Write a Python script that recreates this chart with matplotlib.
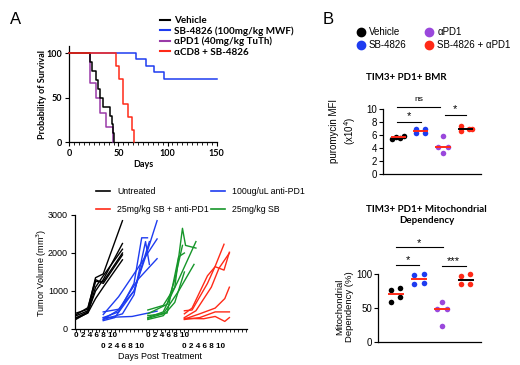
import numpy as np
import matplotlib.pyplot as plt
from matplotlib.lines import Line2D
import matplotlib.transforms as mtransforms

W, H = 520, 365
def fx(px): return px / W
def fy(py): return 1 - py / H

BOLD = 'Lato'
REG = 'Liberation Sans'
plt.rcParams['font.family'] = [REG, 'DejaVu Sans']
plt.rcParams['axes.linewidth'] = 0.9

# ---- survival data ----
surv_labels = ['Vehicle', 'SB-4826 (100mg/kg MWF)', 'αPD1 (40mg/kg TuTh)', 'αCD8 + SB-4826']
veh_t = [0, 21.5, 23.5, 27.5, 29.5, 31, 34.5, 41, 43, 44, 45.5]
veh_s = [100, 90, 80, 70, 60, 50, 40, 30, 20, 10, 0]
sb_t = [0, 68, 78, 86, 96, 150]
sb_s = [100, 92.9, 85.7, 78.6, 71.4, 71.4]
pd1_t = [0, 21, 27, 31, 37, 44.5]
pd1_s = [100, 66.7, 50, 33.3, 16.7, 0]
cd8_t = [0, 48, 50.5, 55, 60, 63.5, 66]
cd8_s = [100, 85.7, 71.4, 42.9, 28.6, 14.3, 0]

# ---- tumor growth data (days post treatment, volume mm3) ----
tumor_labels = ['Untreated', '25mg/kg SB + anti-PD1', '100ug/uL anti-PD1', '25mg/kg SB']
untreated_d = [[0, 3, 5, 7, 12], [0, 3, 5, 7, 12], [0, 3, 5, 7, 12],
               [0, 3, 5, 7, 12], [0, 3, 5, 7, 12], [0, 3, 5, 7, 12]]
untreated_v = [[420, 520, 1350, 1450, 2850], [300, 450, 1000, 1300, 2250],
               [260, 430, 1100, 1400, 2100], [350, 480, 1250, 1250, 2000],
               [280, 420, 800, 1100, 1820], [380, 560, 1300, 1200, 1950]]
apd1_d = [[0, 4, 8, 11, 14], [0, 4, 8, 10, 11.5], [0, 5, 8, 11, 12],
          [0, 4, 9, 14], [0, 4, 9, 14], [0, 7.5, 14], [0, 3, 8, 12]]
apd1_v = [[450, 520, 1000, 1900, 2850], [300, 450, 1200, 2400, 2400],
          [250, 400, 900, 2300, 1700], [380, 850, 1600, 2370],
          [260, 500, 1300, 1850], [300, 330, 470], [220, 300, 1000, 2300]]
sb_d = [[0, 4, 7, 9, 9.8, 12.5], [0, 4, 8, 12.5], [0, 4, 8, 12],
        [0, 5, 8, 9.5], [0, 4, 7, 9.5], [0, 5, 7, 9]]
sb_v = [[500, 620, 1100, 2650, 2200, 2130], [300, 450, 1300, 2300],
        [280, 400, 1000, 1700], [350, 420, 1900, 2000],
        [250, 350, 700, 1500], [400, 650, 1300, 2200]]
combo_d = [[0, 2, 6, 8, 10.3], [0, 2, 6, 8, 10.3, 11.7], [0, 3, 7, 9, 11.7],
           [0, 4, 8, 10.5, 11.7], [0, 4, 8, 11.7], [0, 5, 8, 10.5, 11.7]]
combo_v = [[480, 500, 1200, 1650, 2230], [400, 550, 1400, 1640, 1550, 2020],
           [300, 480, 1100, 1600, 2000], [260, 400, 550, 800, 1100],
           [250, 300, 450, 450], [280, 270, 330, 200, 300]]
day_label = '0 2 4 6 8 10'

# ---- panel B data ----
b_labels = ['Vehicle', 'SB-4826', 'αPD1', 'SB-4826 + αPD1']
bmr = [[5.4, 5.7, 5.6, 5.8], [7.0, 7.0, 6.3, 6.4], [5.8, 4.2, 4.2, 3.2], [7.4, 6.7, 6.9, 7.0]]
mito = [[76, 79, 66, 58], [98, 100, 85, 87], [59, 49, 48, 23], [97, 100, 85, 85]]

C_BLK = '#000000'
C_BLUE = '#1e3cf0'
C_PURP = '#9a3aa8'
C_RED = '#ff2a18'
C_GRN = '#16962a'
C_BPURP = '#9a48dc'
C_BRED = '#ff2a18'

fig = plt.figure(figsize=(5.2, 3.65), dpi=100)

fig.text(fx(16), fy(19), 'A', fontsize=12, ha='center', va='center')
fig.text(fx(328), fy(20), 'B', fontsize=12, ha='center', va='center')

# ---------- survival ----------
ax1 = fig.add_axes([fx(69.3), fy(142.3), fx(216.7) - fx(69.3), fy(45.9) - fy(142.3)])
for t, s, c in [(sb_t, sb_s, C_BLUE), (pd1_t, pd1_s, C_PURP),
                (veh_t, veh_s, C_BLK), (cd8_t, cd8_s, C_RED)]:
    ax1.step(t, s, where='post', color=c, lw=1.1, clip_on=False, zorder=3)
ax1.set_xlim(0, 150)
ax1.set_ylim(0, 108)
ax1.set_xticks([0, 50, 100, 150])
ax1.set_xticks(np.arange(0, 151, 5), minor=True)
ax1.set_yticks([0, 50, 100])
for sp in ['top', 'right']:
    ax1.spines[sp].set_visible(False)
ax1.tick_params(length=3, width=0.8, pad=2)
ax1.tick_params(which='minor', length=1.8, width=0.6)
for lab in ax1.get_xticklabels() + ax1.get_yticklabels():
    lab.set_fontfamily(BOLD)
    lab.set_fontweight('bold')
    lab.set_fontsize(6.5)
ax1.set_xlabel('Days', fontfamily=BOLD, fontweight='bold', fontsize=6.5, labelpad=1.5)
ax1.set_ylabel('Probability of Survival', fontfamily=BOLD, fontweight='bold', fontsize=6.5)
ax1.yaxis.set_label_coords(-0.15, 0.5)

h1 = [Line2D([], [], color=c, lw=1.5) for c in [C_BLK, C_BLUE, C_PURP, C_RED]]
leg = fig.legend(h1, surv_labels, loc='upper left', bbox_to_anchor=(fx(160), fy(16)),
                 frameon=False, borderpad=0, borderaxespad=0, handlelength=1.0,
                 handletextpad=0.4, labelspacing=0.12,
                 prop={'family': BOLD, 'weight': 'bold', 'size': 7.1})

# ---------- tumor growth ----------
ax2 = fig.add_axes([fx(75), fy(329), fx(246.7) - fx(75), fy(215) - fy(329)])
groups = [(untreated_d, untreated_v, C_BLK, 0.0), (apd1_d, apd1_v, C_BLUE, 7.0),
          (sb_d, sb_v, C_GRN, 18.6), (combo_d, combo_v, C_RED, 28.1)]
for dd, vv, c, off in groups:
    for d, v in zip(dd, vv):
        ax2.plot(np.array(d) + off, v, color=c, lw=1.0)
ax2.set_xlim(-0.34, 44.3)
ax2.set_ylim(0, 3000)
ax2.set_yticks([0, 1000, 2000, 3000])
ax2.set_xticks([])
ax2.set_xticks(np.arange(0, 45, 1), minor=True)
ax2.tick_params(axis='y', length=3, width=0.8, labelsize=6.5, pad=2)
ax2.tick_params(axis='x', which='minor', length=2, width=0.6)
for sp in ['top', 'right']:
    ax2.spines[sp].set_visible(False)
ax2.set_ylabel('Tumor Volume (mm$^3$)', fontsize=6.5)
ax2.yaxis.set_label_coords(-0.15, 0.49)
trans = mtransforms.blended_transform_factory(ax2.transData, ax2.transAxes)
row_y = [-0.059, -0.155, -0.059, -0.155]
for (dd, vv, c, off), ry in zip(groups, row_y):
    ax2.text(off - 0.5, ry, day_label, transform=trans, ha='left', va='center',
             fontsize=5.9, fontweight='bold')
ax2.text(0.495, -0.24, 'Days Post Treatment', transform=ax2.transAxes, ha='center',
         va='center', fontsize=6.5)

hA = [Line2D([], [], color=C_BLK, lw=1.2), Line2D([], [], color=C_RED, lw=1.2)]
fig.legend(hA, tumor_labels[:2], loc='upper left', bbox_to_anchor=(fx(96), fy(187)),
           frameon=False, borderpad=0, borderaxespad=0, handlelength=1.6,
           handletextpad=0.8, labelspacing=1.0, fontsize=6.3)
hB = [Line2D([], [], color=C_BLUE, lw=1.2), Line2D([], [], color=C_GRN, lw=1.2)]
fig.legend(hB, tumor_labels[2:], loc='upper left', bbox_to_anchor=(fx(211), fy(187)),
           frameon=False, borderpad=0, borderaxespad=0, handlelength=1.6,
           handletextpad=0.8, labelspacing=1.0, fontsize=6.3)

# ---------- panel B ----------
bcols = [C_BLK, C_BLUE, C_BPURP, C_BRED]
med_cols = [C_RED, C_RED, C_RED, C_BLK]
jit_bmr = [[-0.27, -0.09, 0.09, 0.27], [-0.2, 0.2, -0.2, 0.2],
           [0, -0.22, 0.22, 0], [-0.22, -0.2, 0.15, 0.3]]
jit_mito = [[-0.2, 0.2, 0.2, -0.2], [-0.2, 0.2, -0.2, 0.2],
            [0, -0.22, 0.22, 0], [-0.2, 0.2, -0.2, 0.2]]


def dotplot(ax, vals, jit):
    for i, (v, j) in enumerate(zip(vals, jit)):
        ax.scatter(np.array(j) + i, v, s=16, color=bcols[i], zorder=3, linewidths=0,
                   clip_on=False)
        m = np.median(v)
        ax.plot([i - 0.3, i + 0.3], [m, m], color=med_cols[i], lw=1.4, zorder=4,
                clip_on=False)
    for sp in ['top', 'right']:
        ax.spines[sp].set_visible(False)
    ax.set_xticks([])
    ax.tick_params(axis='y', length=3, width=0.8, labelsize=7, pad=1.5)


def sig(ax, x0, x1, y, ty, txt, fs=8):
    ax.plot([x0, x1], [y, y], color='black', lw=0.8, clip_on=False)
    ax.text((x0 + x1) / 2, ty, txt, ha='center', va='center', fontsize=fs, clip_on=False)


ax3 = fig.add_axes([fx(383.3), fy(174.3), fx(480.7) - fx(383.3), fy(109) - fy(174.3)])
dotplot(ax3, bmr, jit_bmr)
ax3.set_xlim(-0.67, 3.68)
ax3.set_ylim(0, 10)
ax3.set_yticks([0, 2, 4, 6, 8, 10])
ax3.set_ylabel('puromycin MFI\n(x10$^4$)', fontsize=7, linespacing=1.3)
ax3.yaxis.set_label_coords(-0.26, 0.66)
sig(ax3, -0.07, 1.86, 10.26, 11.4, 'ns', fs=6)
sig(ax3, -0.07, 1.01, 8.05, 8.9, '*')
sig(ax3, 2.08, 3.02, 9.1, 9.95, '*')
fig.text(fx(406.7), fy(77.3), 'TIM3+ PD1+ BMR', ha='center', va='center',
         fontfamily=BOLD, fontweight='bold', fontsize=7)

ax4 = fig.add_axes([fx(378.3), fy(341.7), fx(480.7) - fx(378.3), fy(274) - fy(341.7)])
dotplot(ax4, mito, jit_mito)
ax4.set_xlim(-0.75, 3.65)
ax4.set_ylim(0, 100)
ax4.set_yticks([0, 50, 100])
ax4.set_ylabel('Mitochondrial\nDependency (%)', fontsize=6.8, linespacing=1.1)
ax4.yaxis.set_label_coords(-0.235, 0.52)
sig(ax4, 0, 2.02, 140.3, 146, '*')
sig(ax4, 0, 1.01, 113.3, 120, '*')
sig(ax4, 1.97, 3.02, 111.8, 118.5, '***')
fig.text(fx(426.7), fy(215), 'TIM3+ PD1+ Mitochondrial\nDependency', ha='center',
         va='center', fontfamily=BOLD, fontweight='bold', fontsize=7, linespacing=1.35)

hC = [Line2D([], [], ls='', marker='o', ms=6, color=c) for c in [C_BLK, C_BLUE]]
fig.legend(hC, b_labels[:2], loc='upper left', bbox_to_anchor=(fx(357), fy(27)),
           frameon=False, borderpad=0, borderaxespad=0, handlelength=0.8,
           handletextpad=0.4, labelspacing=0.3, fontsize=7)
hD = [Line2D([], [], ls='', marker='o', ms=6, color=c) for c in [C_BPURP, C_BRED]]
fig.legend(hD, b_labels[2:], loc='upper left', bbox_to_anchor=(fx(425.5), fy(27)),
           frameon=False, borderpad=0, borderaxespad=0, handlelength=0.8,
           handletextpad=0.4, labelspacing=0.3, fontsize=7)

fig.savefig('out.png', dpi=100)
